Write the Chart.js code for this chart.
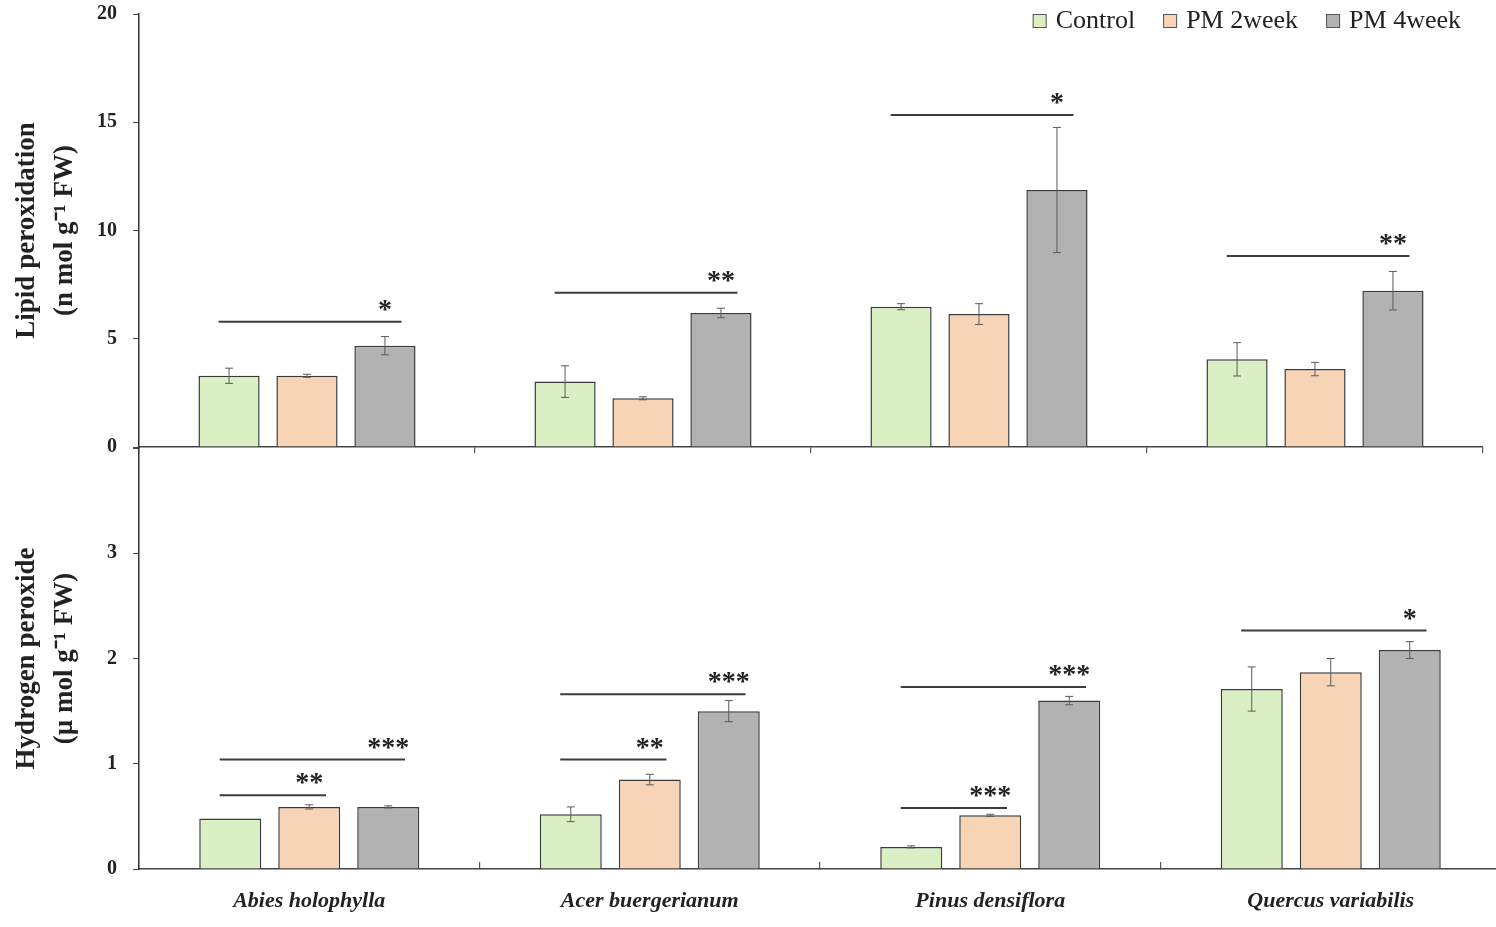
<!DOCTYPE html>
<html>
<head>
<meta charset="utf-8">
<script src="https://cdn.jsdelivr.net/npm/chart.js@4.4.1/dist/chart.umd.min.js"></script>
<style>
  html, body { margin: 0; padding: 0; background: #fff; overflow: hidden; }
  canvas { position: absolute; left: 0; }
  #lipid { top: 0; }
  #h2o2 { top: 447px; }
</style>
</head>
<body>
<canvas id="lipid" width="1496" height="462"></canvas>
<canvas id="h2o2" width="1510" height="480"></canvas>
<script>
// Data.
const species = ['Abies holophylla', 'Acer buergerianum', 'Pinus densiflora', 'Quercus variabilis'];
const seriesNames = ['Control', 'PM 2week', 'PM 4week'];

const lipidControl = [3.29, 3.02, 6.48, 4.05];
const lipidPm2 = [3.29, 2.25, 6.14, 3.60];
const lipidPm4 = [4.68, 6.19, 11.87, 7.22];
const lipidControlErr = [0.35, 0.73, 0.14, 0.77];
const lipidPm2Err = [0.07, 0.07, 0.48, 0.31];
const lipidPm4Err = [0.42, 0.22, 2.89, 0.89];

const h2o2Control = [0.48, 0.52, 0.21, 1.71];
const h2o2Pm2 = [0.59, 0.85, 0.51, 1.87];
const h2o2Pm4 = [0.59, 1.50, 1.60, 2.08];
const h2o2ControlErr = [0, 0.07, 0.01, 0.21];
const h2o2Pm2Err = [0.02, 0.05, 0.01, 0.13];
const h2o2Pm4Err = [0.01, 0.10, 0.04, 0.08];

const lipidTicks = [0, 5, 10, 15, 20];
const h2o2Ticks = [0, 1, 2, 3];

// significance brackets: [species, first series, last series, height, stars]
const lipidSig = [
  [0, 0, 2, 5.79, '*'],
  [1, 0, 2, 7.13, '**'],
  [2, 0, 2, 15.33, '*'],
  [3, 0, 2, 8.82, '**']
];
const h2o2Sig = [
  [0, 0, 1, 0.70, '**'],
  [0, 0, 2, 1.04, '***'],
  [1, 0, 1, 1.04, '**'],
  [1, 0, 2, 1.66, '***'],
  [2, 0, 1, 0.58, '***'],
  [2, 0, 2, 1.73, '***'],
  [3, 0, 2, 2.265, '*']
];

const fills = ['#DAEFC4', '#F8D4B6', '#B2B2B2'];
const SERIF = '"Liberation Serif", "Times New Roman", serif';

/**
 * Draws the standard error whiskers on top of every bar.
 */
const errorBars = {
  id: 'errorBars',
  afterDatasetsDraw(chart) {
    const ctx = chart.ctx;
    const y = chart.scales.y;
    ctx.save();
    ctx.strokeStyle = '#5a5a5a';
    ctx.lineWidth = 1;
    chart.data.datasets.forEach((ds, i) => {
      chart.getDatasetMeta(i).data.forEach((bar, j) => {
        const e = ds.errors[j];
        if (!e) return;
        const top = y.getPixelForValue(ds.data[j] + e);
        const bot = y.getPixelForValue(ds.data[j] - e);
        ctx.beginPath();
        ctx.moveTo(bar.x, top); ctx.lineTo(bar.x, bot);
        ctx.moveTo(bar.x - 4, top); ctx.lineTo(bar.x + 4, top);
        ctx.moveTo(bar.x - 4, bot); ctx.lineTo(bar.x + 4, bot);
        ctx.stroke();
      });
    });
    ctx.restore();
  }
};

/**
 * Horizontal significance lines with their asterisks.
 */
const signif = {
  id: 'signif',
  afterDatasetsDraw(chart, args, opts) {
    const ctx = chart.ctx;
    const y = chart.scales.y;
    ctx.save();
    opts.marks.forEach(([k, a, b, v, stars]) => {
      const p = chart.getDatasetMeta(a).data[k];
      const q = chart.getDatasetMeta(b).data[k];
      const py = y.getPixelForValue(v);
      ctx.strokeStyle = '#3c3c3c';
      ctx.lineWidth = 2;
      ctx.beginPath();
      ctx.moveTo(p.x - p.width * 0.17, py);
      ctx.lineTo(q.x + q.width * 0.27, py);
      ctx.stroke();
      ctx.fillStyle = '#222';
      ctx.font = 'bold 28px ' + SERIF;
      ctx.textAlign = 'center';
      ctx.textBaseline = 'alphabetic';
      ctx.fillText(stars, q.x, py - 4);
    });
    ctx.restore();
  }
};

/**
 * Small legend in the upper right corner of the plot area.
 */
const cornerLegend = {
  id: 'cornerLegend',
  afterDraw(chart, args, opts) {
    if (!opts.show) return;
    const ctx = chart.ctx;
    ctx.save();
    ctx.font = '26px ' + SERIF;
    ctx.textBaseline = 'middle';
    let x = chart.chartArea.right - 22;
    const yc = 20;
    chart.data.datasets.slice().reverse().forEach(ds => {
      x -= ctx.measureText(ds.label).width;
      ctx.fillStyle = '#222';
      ctx.fillText(ds.label, x, yc + 1);
      x -= 9 + 14;
      ctx.fillStyle = ds.backgroundColor;
      ctx.fillRect(x, yc - 6, 14, 14);
      ctx.strokeStyle = '#555';
      ctx.lineWidth = 1;
      ctx.strokeRect(x + 0.5, yc - 5.5, 13, 13);
      x -= 28;
    });
    ctx.restore();
  }
};

function makeDatasets(values, errors) {
  return values.map((v, i) => ({
    label: seriesNames[i],
    data: v,
    errors: errors[i],
    backgroundColor: fills[i],
    borderColor: '#3a3a3a',
    borderWidth: 1.5,
    categoryPercentage: 0.696,
    barPercentage: 0.785
  }));
}

function drawPanel(id, opt) {
  return new Chart(document.getElementById(id), {
    type: 'bar',
    data: {labels: species, datasets: makeDatasets(opt.values, opt.errors)},
    plugins: [errorBars, signif, cornerLegend],
    options: {
      responsive: false,
      animation: false,
      layout: {padding: opt.padding},
      plugins: {
        legend: {display: false},
        tooltip: {enabled: false},
        signif: {marks: opt.sig},
        cornerLegend: {show: opt.legend}
      },
      scales: {
        x: {
          grid: {drawOnChartArea: false, tickLength: opt.xTick, color: '#555', lineWidth: 1.2},
          border: {color: '#444', width: 1.5},
          ticks: {
            display: opt.xLabels,
            padding: 26,
            color: '#222',
            font: {family: SERIF, size: 22, style: 'italic', weight: 'bold'}
          },
          afterFit: s => { s.height = opt.xHeight; s.paddingLeft = 0; s.paddingRight = 0; }
        },
        y: {
          min: 0,
          max: opt.max,
          grid: {drawOnChartArea: false, tickLength: 6, color: '#444'},
          border: {color: '#333', width: 1.5},
          ticks: {
            stepSize: opt.step,
            padding: 16,
            color: '#222',
            font: {family: SERIF, size: 20, weight: 'bold'},
            callback: v => opt.ticks.includes(v) ? String(v) : ''
          },
          title: {
            display: true,
            text: opt.title,
            color: '#222',
            padding: {top: 8, bottom: 0},
            font: {family: SERIF, size: 27, weight: 'bold', lineHeight: 1.4}
          },
          afterFit: s => { s.width = 139; s.paddingTop = 0; s.paddingBottom = 0; }
        }
      }
    }
  });
}

drawPanel('lipid', {
  values: [lipidControl, lipidPm2, lipidPm4],
  errors: [lipidControlErr, lipidPm2Err, lipidPm4Err],
  sig: lipidSig,
  legend: true,
  max: 20, step: 5, ticks: lipidTicks,
  title: ['Lipid peroxidation', '(n mol g\u207B\u00B9 FW)'],
  padding: {left: 0, top: 14, right: 13, bottom: 0},
  xTick: 6, xLabels: false, xHeight: 15
});

drawPanel('h2o2', {
  values: [h2o2Control, h2o2Pm2, h2o2Pm4],
  errors: [h2o2ControlErr, h2o2Pm2Err, h2o2Pm4Err],
  sig: h2o2Sig,
  legend: false,
  max: 4, step: 1, ticks: h2o2Ticks,
  title: ['Hydrogen peroxide', '(\u00B5 mol g\u207B\u00B9 FW)'],
  padding: {left: 0, top: 1, right: 9, bottom: 0},
  xTick: -7, xLabels: true, xHeight: 58
});
</script>
</body>
</html>
